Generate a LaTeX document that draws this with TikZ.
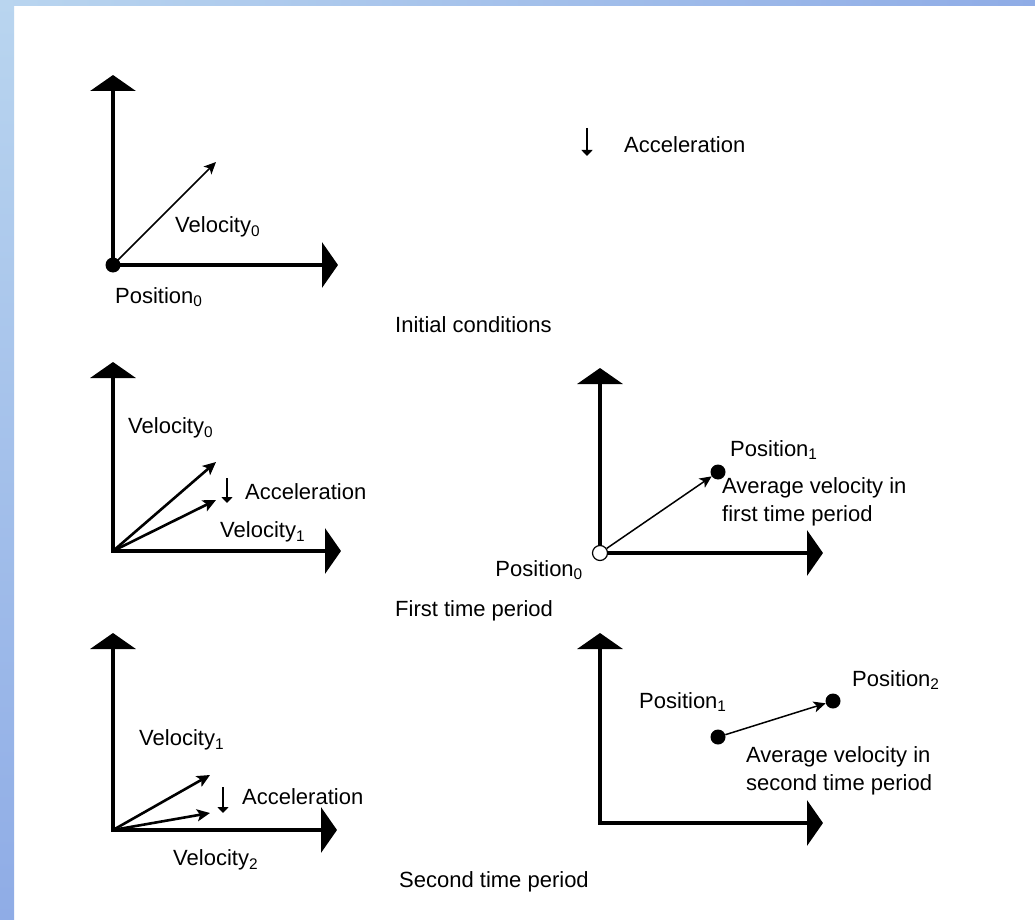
\documentclass[tikz,border=0pt]{standalone}
\usepackage{fontspec}
\setmainfont{Liberation Sans}
\usetikzlibrary{arrows.meta, positioning}
\definecolor{bandlight}{HTML}{B9D5EF}
\definecolor{banddark}{HTML}{8FACE6}
\tikzset{
  every picture/.style={font=\fontsize{22}{28}\selectfont},
  axis/.style={line width=4.5pt, line join=miter, {Triangle[length=16pt, width=45pt]}-{Triangle[length=16pt, width=45pt]}},
  vec/.style={line width=1.5pt, -{Stealth[length=12pt, width=11pt, inset=3pt]}},
  vecthick/.style={line width=2.6pt, -{Stealth[length=13pt, width=12pt, inset=3pt]}},
  accel/.style={line width=1.5pt, -{Triangle[length=6pt, width=11pt]}},
  dot/.style={circle, fill=black, minimum size=15pt, inner sep=0pt},
  opendot/.style={circle, draw=black, fill=white, line width=1.2pt, minimum size=15pt, inner sep=0pt},
  lbl/.style={anchor=west, inner sep=0pt, align=left},
}
\newcommand{\vsub}[1]{\textsubscript{#1}}

\begin{document}
\begin{tikzpicture}[x=1pt, y=-1pt]
  \useasboundingbox (0,0) rectangle (1035,920);
  \fill[white] (0,0) rectangle (1035,920);
  % blue frame bands
  \shade[top color=bandlight, bottom color=banddark] (0,0) rectangle (14,920);
  \shade[left color=bandlight, right color=banddark] (0,0) rectangle (1035,6);

  % initial conditions
  \coordinate (o1) at (113,265);
  \draw[axis] (113,75) -- (o1) -- (338,265);
  \coordinate (v0a) at (216,162);
  \draw[vec] (o1) -- (v0a);
  \node[dot] (pos0a) at (o1) {};
  \node[lbl] (lv0a) at (175,227) {Velocity\vsub{0}};
  \node[lbl] (lp0a) at (115,297) {Position\vsub{0}};
  \coordinate (acc1s) at (587,128);
  \coordinate (acc1e) at (587,156);
  \draw[accel] (acc1s) -- (acc1e);
  \node[lbl] (la1) at (624,145) {Acceleration};
  \node[lbl] (t1) at (395,325) {Initial conditions};

  % first time period, velocities
  \coordinate (o2) at (113,551);
  \draw[axis] (113,362) -- (o2) -- (341,551);
  \coordinate (v0b) at (216,462);
  \coordinate (v1b) at (216,500);
  \draw[vecthick] (o2) -- (v0b);
  \draw[vecthick] (o2) -- (v1b);
  \node[lbl] (lv0b) at (128,428) {Velocity\vsub{0}};
  \coordinate (acc2s) at (227,478);
  \coordinate (acc2e) at (227,503);
  \draw[accel] (acc2s) -- (acc2e);
  \node[lbl] (la2) at (245,492) {Acceleration};
  \node[lbl] (lv1b) at (220,532) {Velocity\vsub{1}};

  % first time period, positions
  \coordinate (o3) at (600,553);
  \draw[axis] (600,368) -- (o3) -- (823,553);
  \node[opendot] (pos0c) at (o3) {};
  \node[dot] (pos1c) at (718,472) {};
  \draw[vec] (pos0c) -- (pos1c);
  \node[lbl] (lp1c) at (730,450) {Position\vsub{1}};
  \node[lbl] (lavg1) at (722,502) {Average velocity in\\first time period};
  \node[lbl, anchor=east] (lp0c) at (583,570) {Position\vsub{0}};
  \node[lbl] (t2) at (395,611) {First time period};

  % second time period, velocities
  \coordinate (o4) at (113,830);
  \draw[axis] (113,633) -- (o4) -- (337,830);
  \coordinate (v1d) at (210,775);
  \coordinate (v2d) at (210,813);
  \draw[vecthick] (o4) -- (v1d);
  \draw[vecthick] (o4) -- (v2d);
  \node[lbl] (lv1d) at (139,740) {Velocity\vsub{1}};
  \coordinate (acc3s) at (223,787);
  \coordinate (acc3e) at (223,813);
  \draw[accel] (acc3s) -- (acc3e);
  \node[lbl] (la3) at (242,797) {Acceleration};
  \node[lbl] (lv2d) at (173,860) {Velocity\vsub{2}};
  \node[lbl] (t3) at (399,882) {Second time period};

  % second time period, positions
  \coordinate (o5) at (600,823);
  \draw[axis] (600,633) -- (o5) -- (823,823);
  \node[dot] (pos1e) at (718,737) {};
  \node[dot] (pos2e) at (833,701) {};
  \draw[vec] (pos1e) -- (pos2e);
  \node[lbl] (lp1e) at (639,702) {Position\vsub{1}};
  \node[lbl] (lp2e) at (852,680) {Position\vsub{2}};
  \node[lbl] (lavg2) at (746,771) {Average velocity in\\second time period};
\end{tikzpicture}
\end{document}
